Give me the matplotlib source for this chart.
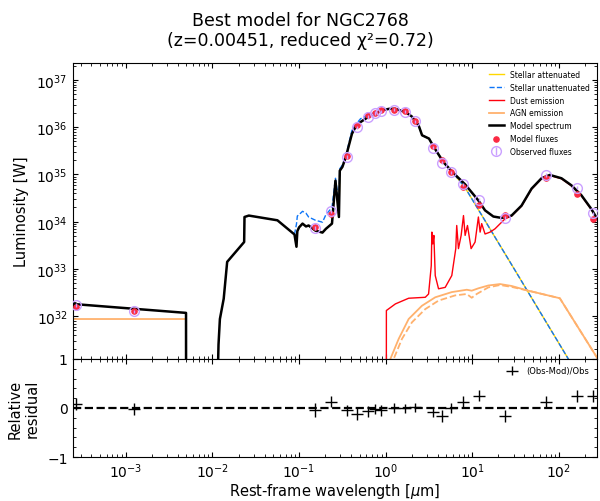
import numpy as np
import matplotlib.pyplot as plt
from matplotlib.ticker import AutoMinorLocator, LogLocator, NullFormatter

# photometry (wavelength in micron, luminosity in W)
filt_wl = [2.68e-4, 1.23e-3, 0.153, 0.231, 0.355, 0.47, 0.62, 0.75, 0.89, 1.24, 1.65,
           2.16, 3.55, 4.49, 5.73, 7.87, 12.0, 24.0, 70.0, 160.0, 250.0]
obs_log = [32.24, 32.10, 33.87, 34.22, 35.37, 36.00, 36.22, 36.30, 36.34, 36.37, 36.33,
           36.13, 35.57, 35.25, 35.05, 34.79, 34.47, 34.08, 34.99, 34.72, 34.18]
resid = [0.08, -0.02, -0.04, 0.13, -0.05, -0.12, -0.07, -0.02, -0.05, 0.0, -0.01,
         0.01, -0.08, -0.16, 0.0, 0.13, 0.25, -0.16, 0.13, 0.25, 0.25]
resid_err = [0.12, 0.12, 0.14, 0.12, 0.12, 0.12, 0.11, 0.11, 0.11, 0.1, 0.1,
             0.1, 0.11, 0.12, 0.1, 0.11, 0.11, 0.12, 0.11, 0.12, 0.12]

# model spectrum (log10 wavelength, log10 luminosity)
mod_lx = [-3.62, -2.305, -2.304, -1.96, -1.93, -1.914, -1.87, -1.83, -1.634, -1.630, -1.58,
          -1.25, -1.053, -1.03, -1.02, -1.00, -0.96, -0.92, -0.89, -0.81, -0.73, -0.69,
          -0.62, -0.58, -0.54, -0.53, -0.50, -0.46, -0.39, -0.35, -0.29, -0.20, -0.04,
          0.04, 0.11, 0.23, 0.30, 0.38, 0.42, 0.50, 0.556, 0.667, 0.771, 0.917, 1.070,
          1.147, 1.243, 1.338, 1.453, 1.568, 1.684, 1.799, 1.895, 2.029, 2.144, 2.259,
          2.374, 2.451, 2.55]
mod_ly = [32.26, 32.07, 29.0, 29.0, 31.40, 31.94, 32.37, 33.15, 33.57, 34.10, 34.13,
          34.03, 33.73, 33.47, 33.80, 33.88, 33.96, 33.90, 33.92, 33.81, 33.77, 33.85,
          33.96, 34.87, 34.10, 35.08, 35.16, 35.37, 35.86, 36.00, 36.11, 36.22, 36.36,
          36.39, 36.39, 36.32, 36.23, 36.04, 35.83, 35.76, 35.58, 35.26, 35.05, 34.79, 34.45,
          34.24, 34.11, 34.08, 34.13, 34.34, 34.70, 34.92, 34.99, 34.92, 34.77, 34.56,
          34.27, 34.03, 33.70]

# stellar components
stel_lx = [-1.053, -1.03, -1.02, -1.00, -0.96, -0.92, -0.89, -0.81, -0.73, -0.69, -0.62,
           -0.58, -0.54, -0.53, -0.50, -0.46, -0.39, -0.35, -0.29, -0.20, -0.04, 0.04,
           0.11, 0.23, 0.30, 0.38, 0.42, 0.50, 0.556, 0.667, 0.771, 0.917, 1.50, 2.50]
stel_att = [33.73, 33.47, 33.80, 33.88, 33.96, 33.90, 33.92, 33.81, 33.77, 33.85, 33.96,
            34.87, 34.10, 35.08, 35.16, 35.37, 35.86, 36.00, 36.11, 36.22, 36.36, 36.39,
            36.39, 36.32, 36.23, 36.04, 35.83, 35.76, 35.58, 35.26, 35.05, 34.72, 32.95, 29.90]
stel_unatt = [33.73, 33.95, 34.12, 34.15, 34.22, 34.18, 34.10, 34.03, 33.99, 34.15, 34.30,
              34.92, 34.40, 35.12, 35.20, 35.40, 35.93, 36.05, 36.18, 36.26, 36.37, 36.39,
              36.39, 36.32, 36.23, 36.04, 35.83, 35.76, 35.58, 35.26, 35.05, 34.72, 32.95, 29.90]

# dust emission
dust_lx = [0.007, 0.008, 0.112, 0.265, 0.457, 0.495, 0.526, 0.533, 0.544, 0.556, 0.572,
           0.610, 0.687, 0.763, 0.809, 0.820, 0.840, 0.871, 0.898, 0.917, 0.944, 0.986,
           1.032, 1.070, 1.090, 1.108, 1.147, 1.205, 1.262, 1.377, 1.453, 1.568, 1.684,
           1.799, 1.895, 2.029, 2.144, 2.259, 2.374, 2.451, 2.55]
dust_ly = [29.0, 32.12, 32.26, 32.38, 32.40, 32.47, 33.07, 33.78, 33.53, 33.71, 32.86,
           32.58, 32.61, 32.86, 33.43, 33.92, 33.43, 33.71, 34.13, 33.71, 33.92, 33.43,
           33.57, 34.10, 33.78, 33.96, 33.74, 33.78, 33.85, 34.06, 34.12, 34.33, 34.69,
           34.91, 34.98, 34.91, 34.76, 34.55, 34.26, 34.02, 33.70]

# AGN emission
agn_lx = [-3.62, -2.305, -2.304, 0.04, 0.054, 0.150, 0.265, 0.418, 0.572, 0.763, 0.936,
          0.993, 1.070, 1.185, 1.320, 1.453, 1.646, 2.010, 2.55]
agn_ly = [31.94, 31.94, 20.0, 29.5, 31.095, 31.52, 31.94, 32.22, 32.40, 32.51, 32.56,
          32.54, 32.59, 32.65, 32.68, 32.64, 32.54, 32.38, 30.80]
agn2_lx = [0.08, 0.092, 0.188, 0.303, 0.457, 0.610, 0.802, 0.936, 0.993, 1.051, 1.185,
           1.320, 1.453, 1.646, 2.010, 2.55]
agn2_ly = [29.5, 31.095, 31.52, 31.87, 32.15, 32.33, 32.44, 32.47, 32.39, 32.47, 32.61,
           32.66, 32.62, 32.54, 32.38, 30.80]

filt_wl = np.array(filt_wl)
obs = 10 ** np.array(obs_log)
mod = obs * (1 - np.array(resid))

fig = plt.figure(figsize=(6, 5.02), dpi=100)
ax1 = fig.add_axes([0.121, 0.283, 0.874, 0.5895])
ax2 = fig.add_axes([0.121, 0.0876, 0.874, 0.1954], sharex=ax1)

ax1.loglog(10 ** np.array(stel_lx), 10 ** np.array(stel_att), color='gold', lw=1,
           label='Stellar attenuated')
ax1.loglog(10 ** np.array(stel_lx), 10 ** np.array(stel_unatt), color='xkcd:deep sky blue',
           lw=1, ls='--', label='Stellar unattenuated')
ax1.loglog(10 ** np.array(dust_lx), 10 ** np.array(dust_ly), color='xkcd:bright red', lw=1,
           label='Dust emission')
ax1.loglog(10 ** np.array(agn_lx), 10 ** np.array(agn_ly), color='xkcd:apricot', lw=1.3,
           label='AGN emission')
ax1.loglog(10 ** np.array(agn2_lx), 10 ** np.array(agn2_ly), color='xkcd:apricot', lw=1.3,
           ls='--')
ax1.loglog(10 ** np.array(mod_lx), 10 ** np.array(mod_ly), color='k', lw=1.8,
           label='Model spectrum')
ax1.scatter(filt_wl, mod, marker='o', color='xkcd:strawberry', s=14, zorder=3,
            label='Model fluxes')
ax1.errorbar(filt_wl, obs, yerr=obs * 0.08, ls='', lw=1, marker='o', markersize=7,
             markerfacecolor='None', markeredgecolor='xkcd:pastel purple',
             color='xkcd:pastel purple', capsize=0, label='Observed fluxes', zorder=4)

ax1.set_xlim(2.43e-4, 275)
ax1.set_ylim(10 ** 31.095, 10 ** 37.36)
ax1.set_ylabel('Luminosity [W]', fontsize=10.5)
ax1.yaxis.set_label_coords(-0.083, 0.5)
ax1.legend(fontsize=5.5, loc='upper right', frameon=False)
ax1.yaxis.set_major_locator(LogLocator(base=10, numticks=15))
ax1.yaxis.set_minor_locator(LogLocator(base=10, subs=np.arange(2, 10) * 0.1, numticks=15))
ax1.yaxis.set_minor_formatter(NullFormatter())
ax1.tick_params(which='both', direction='in', top=True, right=True, labelbottom=False,
                labelsize=10)

ax2.errorbar(filt_wl, resid, yerr=resid_err, marker='_', markersize=8, color='k',
             capsize=0, ls='None', lw=1, label='(Obs-Mod)/Obs')
ax2.plot([2.43e-4, 275], [0, 0], ls='--', color='k', lw=1.6)
ax2.set_ylim(-1, 1)
ax2.set_yticks([-1, 0, 1])
ax2.yaxis.set_minor_locator(AutoMinorLocator(5))
ax2.set_xlim(2.43e-4, 275)
ax2.xaxis.set_minor_locator(LogLocator(base=10, subs=np.arange(2, 10) * 0.1, numticks=15))
ax2.xaxis.set_minor_formatter(NullFormatter())
ax2.tick_params(which='both', direction='in', top=True, right=True, labelsize=10)
ax2.set_ylabel('Relative\nresidual', fontsize=10.5)
ax2.yaxis.set_label_coords(-0.062, 0.5)
ax2.set_xlabel('Rest-frame wavelength [$\\mu$m]', fontsize=10.5)
ax2.xaxis.set_label_coords(0.5, -0.245)
ax2.legend(fontsize=6, loc='upper right', frameon=False)

fig.suptitle('Best model for NGC2768\n(z=0.00451, reduced χ²=0.72)', fontsize=12.5, y=0.977)

fig.savefig('out.png', dpi=100)
